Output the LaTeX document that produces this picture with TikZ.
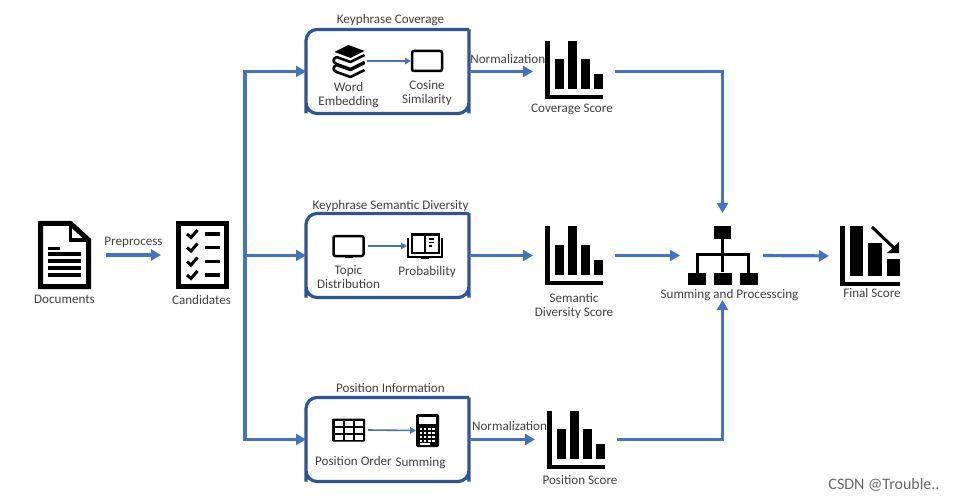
\documentclass[tikz,border=0pt]{standalone}
\usepackage{xcolor}
\usepackage{fontspec}
\setmainfont{Carlito}
\usetikzlibrary{arrows.meta,positioning}
\definecolor{flowblue}{HTML}{4472C4}
\definecolor{panelblue}{HTML}{2F5597}
\definecolor{txtgray}{HTML}{404040}
\tikzset{
  panel/.style   = {inner sep=0pt, outer sep=0pt, minimum width=163pt, minimum height=84pt},
  outline/.style = {draw=panelblue, line width=3.2pt, line cap=square, line join=miter},
  icon/.style    = {inner sep=0pt, outer sep=0pt},
  lbl/.style     = {font=\fontsize{13.1}{14}\selectfont, text=txtgray, align=center, inner sep=0pt},
  flow/.style    = {draw=flowblue, line width=3.2pt, -{Triangle[length=10pt, width=11pt]}},
  thin/.style    = {draw=flowblue, line width=1.6pt, -{Triangle[length=6pt, width=6.5pt]}},
  bars/.pic = {
    \fill (-29,-29) rectangle (-24.5,29);
    \fill (-29,25) rectangle (29,29);
    \fill (-19,-11) rectangle (-10,19);
    \fill (-6,-29) rectangle (3,19);
    \fill (7,-11) rectangle (16,19);
    \fill (20,4) rectangle (29,19);
  },
  tablet/.pic = {
    \draw[line width=2.5pt, rounded corners=2pt] (-15,-10) rectangle (15,10);
    \fill (-4,9) rectangle (4,11.5);
  },
}
\begin{document}
\begin{tikzpicture}[x=1pt, y=-1pt]
  \useasboundingbox (0,0) rectangle (954,500);

  % input side
  \node[icon, minimum width=53pt, minimum height=68pt] (docs) at (64.5,255) {};
  \begin{scope}[shift={(docs.center)}, line join=miter]
    \draw[line width=5pt] (-24,-31.5) -- (6,-31.5) -- (24,-15) -- (24,31.5) -- (-24,31.5) -- cycle;
    \draw[line width=3.5pt] (6,-31.5) -- (6,-15) -- (24,-15);
    \fill (-16.5,-8.5) rectangle (-5,-5.5);
    \foreach \yy in {-1,6,13,20} \fill (-16.5,\yy-1.6) rectangle (16.5,\yy+1.6);
  \end{scope}
  \node[lbl, below=6pt of docs] (docstxt) {Documents};

  \node[icon, minimum width=53pt, minimum height=68pt] (cand) at (202.5,255) {};
  \begin{scope}[shift={(cand.center)}]
    \draw[line width=5pt] (-24,-31.5) rectangle (24,31.5);
    \foreach \yy in {-21,-7.5,6.5,20} {
      \draw[line width=3pt] (-15.5,\yy) -- (-11.5,\yy+3.5) -- (-5,\yy-4);
      \fill (2,\yy-1.6) rectangle (17,\yy+1.6);
    }
  \end{scope}
  \node[lbl, below=6pt of cand, xshift=-1pt] (candtxt) {Candidates};

  \draw[flow, shorten <=15pt, shorten >=15pt] (docs.east) -- (cand.west)
    node[lbl, midway, above=6pt] (pre) {Preprocess};

  % the three panels
  \node[panel] (cover) at (387.5,71.5) {};
  \node[panel] (diver) at (387.5,255.5) {};
  \node[panel] (posit) at (387.5,439.5) {};
  \foreach \pn in {cover,diver,posit} {
    \draw[outline] (\pn.north east) -- (\pn.south east) [rounded corners=11pt]
      -- (\pn.south east) -- (\pn.south west) [sharp corners] -- (\pn.south west)
      [rounded corners=11pt] -- (\pn.north west) -- (\pn.north east);
  }
  \node[lbl, above=4pt of cover, xshift=3pt] (covertxt) {Keyphrase Coverage};
  \node[lbl, above=2pt of diver, xshift=3pt] (divertxt) {Keyphrase Semantic Diversity};
  \node[lbl, above=5pt of posit, xshift=3pt] (postxt) {Position Information};

  % keyphrase coverage
  \node[icon, minimum width=33pt, minimum height=32pt] (books) at (348.5,61) {};
  \begin{scope}[shift={(books.center)}, line join=round]
    \fill (0,-16) -- (16,-10) -- (2,-3) -- (-14,-9) -- cycle;
    \foreach \yy in {0,8} {
      \draw[line width=2.6pt] (16,-6+\yy) -- (2,1+\yy) -- (-12,-4+\yy)
        .. controls (-16,-2+\yy) and (-16,1+\yy) .. (-12,3+\yy) -- (2,8+\yy) -- (16,1+\yy);
    }
  \end{scope}
  \node[icon, minimum width=32pt, minimum height=22pt] (simtab) at (427,61) {};
  \pic at (simtab.center) {tablet};
  \draw[thin] (books.east) ++(2,0) -- (simtab.west);
  \node[lbl, below=5pt of books] (wordtxt) {Word\\Embedding};
  \node[lbl, below=8.5pt of simtab] (simtxt) {Cosine\\Similarity};

  % semantic diversity
  \node[icon, minimum width=33pt, minimum height=22pt] (topic) at (348.5,246) {};
  \pic at (topic.center) {tablet};
  \node[icon, minimum width=36pt, minimum height=26pt] (probbook) at (425,246) {};
  \begin{scope}[shift={(probbook.center)}, line join=miter]
    \draw[line width=2.5pt] (-13,-11.5) rectangle (0,7);
    \draw[line width=2.5pt] (0,-11.5) rectangle (14,7);
    \draw[line width=2pt] (-17,-8) -- (-17,10.5) -- (-3,10.5) -- (3,10.5) -- (17,10.5) -- (17,-8);
    \fill (-4,10) rectangle (4,13);
    \foreach \yy/\xe in {-7/9,-3.5/9,0/6.5} \fill (4,\yy-0.8) rectangle (\xe,\yy+0.8);
  \end{scope}
  \draw[thin] (topic.east) ++(3,0) -- (probbook.west);
  \node[lbl, below=8pt of topic] (topictxt) {Topic\\Distribution};
  \node[lbl, below=7pt of probbook, xshift=2pt] (probtxt) {Probability};

  % position information
  \node[icon, minimum width=33pt, minimum height=23pt] (table) at (348.5,430) {};
  \begin{scope}[shift={(table.center)}]
    \fill[rounded corners=1pt] (-16.5,-11.5) rectangle (16.5,11.5);
    \foreach \cx in {-14,-4,6} \foreach \cy in {-9,-2,4.5}
      \fill[white] (\cx,\cy) rectangle +(8.3,5);
  \end{scope}
  \node[icon, minimum width=23pt, minimum height=33pt] (calc) at (427.5,430.5) {};
  \begin{scope}[shift={(calc.center)}]
    \fill[rounded corners=2pt] (-11.5,-16.5) rectangle (11.5,16.5);
    \fill[white] (-8.5,-13.5) rectangle (8.5,-7);
    \foreach \cx in {-8,-3.8,0.4,4.6} \foreach \cy in {-3,1,5,9}
      \fill[white] (\cx,\cy) rectangle +(2.6,2.4);
    \fill[white] (-8,12.2) rectangle (2,14);
  \end{scope}
  \draw[thin] (table.east) ++(3,0) -- (calc.west);
  \node[lbl, below=15pt of table, xshift=5pt] (ordertxt) {Position Order};
  \node[lbl, below=10pt of calc, xshift=-7pt] (sumtxt) {Summing};

  % score charts
  \node[icon, minimum size=58pt] (covbars) at (574,70) {};
  \node[icon, minimum size=58pt] (divbars) at (574,255.5) {};
  \node[icon, minimum size=58pt] (posbars) at (576,440) {};
  \foreach \bn in {covbars,divbars,posbars} \pic at (\bn.center) {bars};
  \node[lbl, below=5pt of covbars, xshift=-2pt] (covscore) {Coverage Score};
  \node[lbl, below=8.5pt of divbars] (divscore) {Semantic\\Diversity Score};
  \node[lbl, below=6pt of posbars, xshift=4pt] (posscore) {Position Score};

  % trunk from the candidates list
  \node[icon] (trunk) at (245,255.5) {};
  \draw[flow] (trunk.center) |- (cover.west);
  \draw[flow] (trunk.center) -- (diver.west);
  \draw[flow] (trunk.center) |- (posit.west);

  % panels into charts
  \draw[flow, shorten >=12pt] (cover.east) -- (cover.east -| covbars.west)
    node[lbl, pos=0.51, above=6pt] (normcov) {Normalization};
  \draw[flow, shorten >=12pt] (diver.east) -- (diver.east -| divbars.west);
  \draw[flow, shorten >=12pt] (posit.east) -- (posit.east -| posbars.west)
    node[lbl, pos=0.52, above=7pt] (normpos) {Normalization};

  % summing block
  \node[icon, minimum width=69pt, minimum height=59pt] (summing) at (722.5,255.5) {};
  \begin{scope}[shift={(summing.center)}]
    \fill (-8.5,-29.5) rectangle (8.5,-16.5);
    \draw[line width=3pt] (0,-16.5) -- (0,16);
    \draw[line width=3pt] (-25.5,17) -- (-25.5,-1.5) -- (26,-1.5) -- (26,17);
    \foreach \cx in {-34.5,-8.5,17.5} \fill (\cx,17.5) rectangle +(17.5,12);
  \end{scope}
  \node[lbl, below=4pt of summing, xshift=7pt] (sumproc) {Summing and Processcing};

  \draw[flow, shorten <=12pt, shorten >=13pt] (cover.east -| covbars.east) -| (summing.north);
  \draw[flow, shorten <=12pt, shorten >=8pt] (divbars.east) -- (summing.west);
  \draw[flow, shorten <=12pt, shorten >=15pt] (posit.east -| posbars.east) -| (summing.south);

  % final chart
  \node[icon, minimum width=60pt, minimum height=60pt] (final) at (870,256) {};
  \begin{scope}[shift={(final.center)}]
    \fill (-30,-30) rectangle (-25.5,30);
    \fill (-30,25.5) rectangle (30,30);
    \fill (-20,-30) rectangle (-7,20);
    \fill (-2,-13) rectangle (12,20);
    \fill (17,3) rectangle (30,20);
    \draw[line width=3pt] (2,-29) -- (24,-8);
    \fill (29,-14) -- (29,-3) -- (17,-3) -- cycle;
  \end{scope}
  \node[lbl, below=2pt of final, xshift=2pt] (finaltxt) {Final Score};
  \draw[flow, shorten <=6pt, shorten >=11pt] (summing.east) -- (final.west);

  \node[font=\fontsize{16}{18}\selectfont, text=black!60, inner sep=0pt] (mark) at (884,485) {CSDN @Trouble..};
\end{tikzpicture}
\end{document}
